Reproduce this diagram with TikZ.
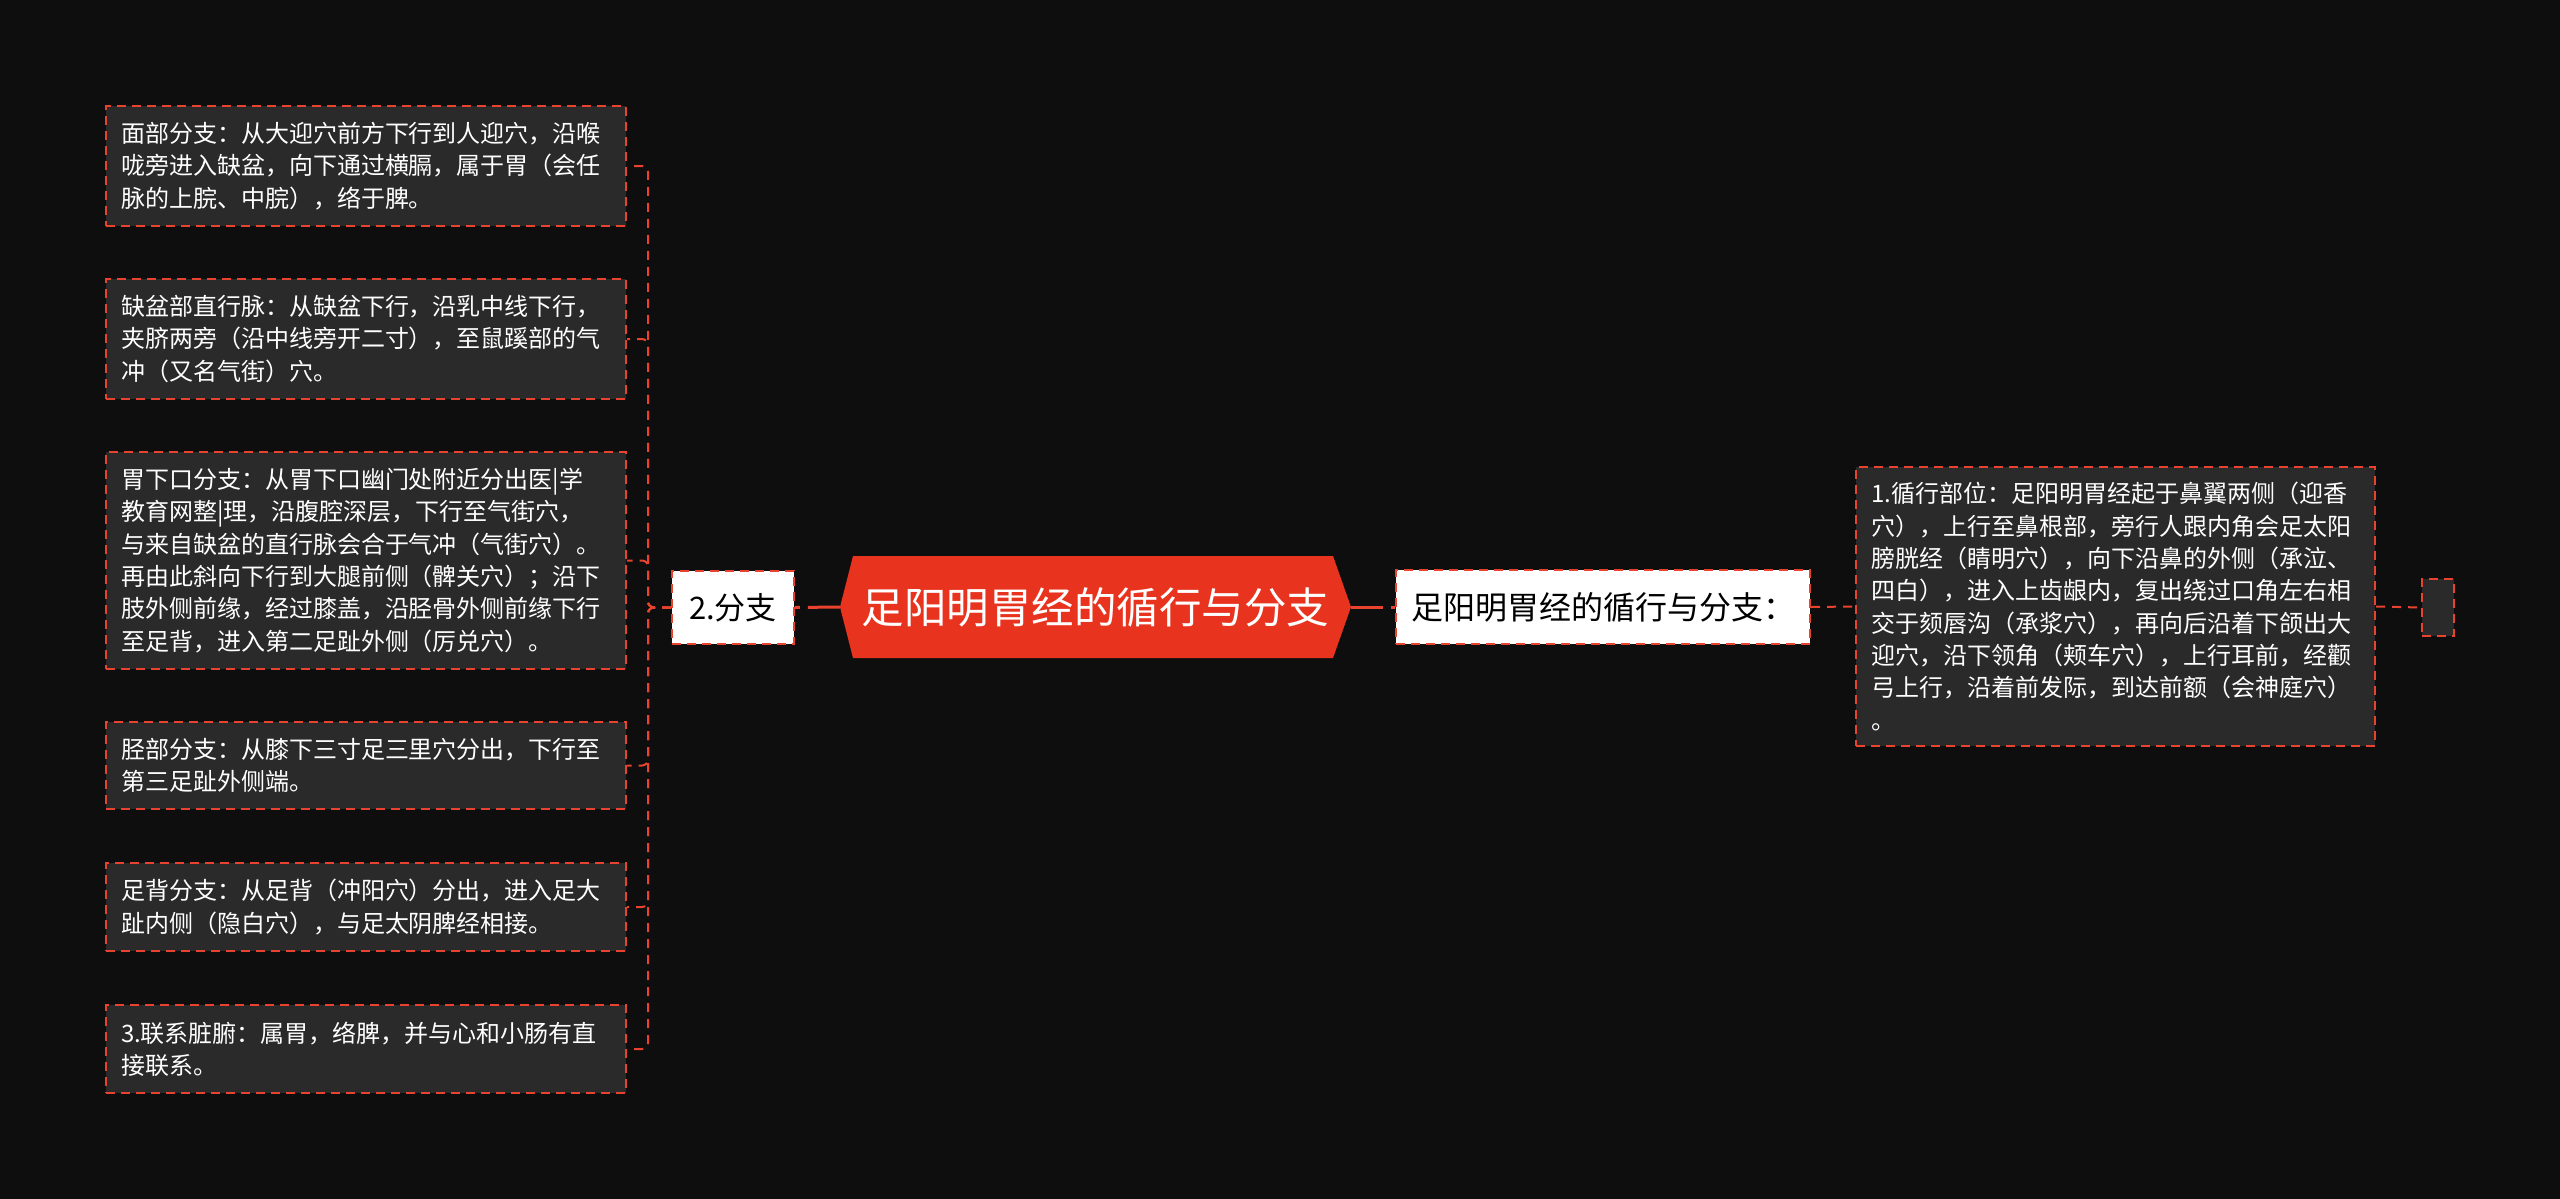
\documentclass[tikz,border=0pt]{standalone}
\usepackage{fontspec}
\setmainfont{Noto Sans CJK SC}
\usetikzlibrary{calc}
\definecolor{bgc}{HTML}{0E0E0E}
\definecolor{boxfill}{HTML}{2A2A2A}
\definecolor{cred}{HTML}{E8432E}
\definecolor{hexred}{HTML}{E8331F}
\begin{document}
\begin{tikzpicture}[x=1pt,y=-1pt,
  leaf/.style={draw=cred, line width=2pt, dash pattern=on 9pt off 6pt, fill=boxfill,
    text=white, font=\fontsize{24}{32.3}\selectfont, text width=490pt, align=left,
    inner xsep=15pt, inner ysep=0pt},
  labelbox/.style={draw=cred, line width=2pt, dash pattern=on 9pt off 6pt, fill=white,
    text=black, inner sep=0pt},
  conn/.style={draw=cred, line width=2pt, dash pattern=on 9pt off 7pt, rounded corners=6pt},
  mainconn/.style={draw=cred, line width=3pt, dash pattern=on 32pt off 8pt}
]
\useasboundingbox[fill=bgc] (0,0) rectangle (2560,1199);

% central hexagon
\fill[hexred] (840,607) -- (853,556) -- (1333,556) -- (1351,607) -- (1333,658) -- (853,658) -- cycle;
\node (root) at (1095.5,607) [minimum width=511pt, minimum height=102pt, inner sep=0pt,
  text=white, font=\fontsize{42.5}{42.5}\selectfont] {足阳明胃经的循行与分支};

% left branch label
\node[labelbox, font=\fontsize{31}{36}\selectfont, minimum width=122pt, minimum height=73pt] (fz) at (733,607.5) {2.分支};

% right label
\node[labelbox, font=\fontsize{32}{36}\selectfont, minimum width=414pt, minimum height=74pt] (xx) at (1603,607) {足阳明胃经的循行与分支：};

% right text box
\node[leaf, text width=489pt, minimum height=279pt] (rb) at (2115.5,606.5) {1.循行部位：足阳明胃经起于鼻翼两侧（迎香\\穴），上行至鼻根部，旁行人跟内角会足太阳\\膀胱经（睛明穴），向下沿鼻的外侧（承泣、\\四白），进入上齿龈内，复出绕过口角左右相\\交于颏唇沟（承浆穴），再向后沿着下颌出大\\迎穴，沿下领角（颊车穴），上行耳前，经颧\\弓上行，沿着前发际，到达前额（会神庭穴）\\。};

% small empty box
\node[draw=cred, line width=2pt, dash pattern=on 9pt off 6pt, fill=boxfill, minimum width=32pt, minimum height=57pt, inner sep=0pt] (sb) at (2438,607.5) {};

% left text boxes
\node[leaf, minimum height=120pt] (b1) at (366,166) {面部分支：从大迎穴前方下行到人迎穴，沿喉\\咙旁进入缺盆，向下通过横膈，属于胃（会任\\脉的上脘、中脘），络于脾。};
\node[leaf, minimum height=120pt] (b2) at (366,339) {缺盆部直行脉：从缺盆下行，沿乳中线下行，\\夹脐两旁（沿中线旁开二寸），至鼠蹊部的气\\冲（又名气街）穴。};
\node[leaf, minimum height=217pt] (b3) at (366,560.5) {胃下口分支：从胃下口幽门处附近分出医|学\\教育网整|理，沿腹腔深层，下行至气街穴，\\与来自缺盆的直行脉会合于气冲（气街穴）。\\再由此斜向下行到大腿前侧（髀关穴）；沿下\\肢外侧前缘，经过膝盖，沿胫骨外侧前缘下行\\至足背，进入第二足趾外侧（厉兑穴）。};
\node[leaf, minimum height=87pt] (b4) at (366,765.5) {胫部分支：从膝下三寸足三里穴分出，下行至\\第三足趾外侧端。};
\node[leaf, minimum height=88pt] (b5) at (366,907) {足背分支：从足背（冲阳穴）分出，进入足大\\趾内侧（隐白穴），与足太阴脾经相接。};
\node[leaf, minimum height=88pt] (b6) at (366,1049) {3.联系脏腑：属胃，络脾，并与心和小肠有直\\接联系。};

% connectors
\draw[mainconn] (root.west) -- (fz.east);
\draw[mainconn] (root.east) -- (xx.west);
\draw[conn] (xx.east) -- (rb.west);
\draw[conn] (rb.east) -- (sb.west);
\foreach \b in {b1,b2,b3,b4,b5,b6}{
  \draw[conn] (fz.west) -- ++(-23,0) |- (\b.east);
}
\end{tikzpicture}
\end{document}
